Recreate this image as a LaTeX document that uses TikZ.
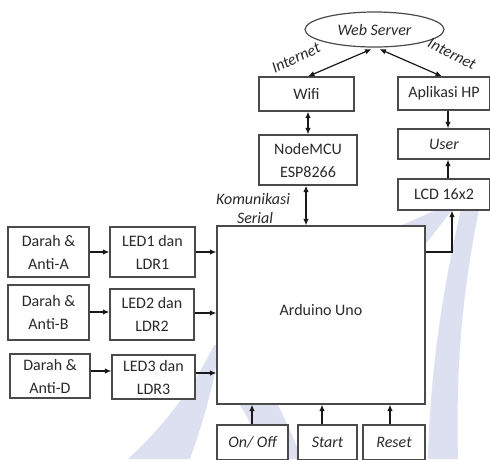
\documentclass[tikz,border=0pt]{standalone}
\usepackage{fontspec}
\setmainfont{Carlito}
\usetikzlibrary{arrows.meta,shapes.geometric}
\definecolor{boxline}{HTML}{4A4A4A}
\definecolor{txt}{HTML}{2A2A2A}
\definecolor{wm}{HTML}{DDE0F1}
\tikzset{
  blk/.style={draw=boxline, line width=1.2pt, fill=white, text=txt, align=center,
    inner sep=0pt, font=\fontsize{16}{23}\selectfont},
  itl/.style={text=txt, font=\fontsize{16}{18}\selectfont\itshape, inner sep=0pt},
  conn/.style={draw=black!90, line width=1.2pt, -{Latex[length=6.5pt,width=5.5pt]}},
  bconn/.style={conn, {Latex[length=6.5pt,width=5.5pt]}-{Latex[length=6.5pt,width=5.5pt]}}
}
\begin{document}
\begin{tikzpicture}[x=1pt,y=-1pt]
\useasboundingbox (0,0) rectangle (490,459);
\clip (0,0) rectangle (490,459);
\fill[white] (0,0) rectangle (490,459);
% watermark bands (faint)
\fill[wm] (128,459) .. controls (165,425) and (195,385) .. (214,345) -- (220,345) .. controls (212,395) and (200,430) .. (190,459) -- cycle;
\fill[wm] (262,459) .. controls (258,440) and (250,420) .. (240,405) -- (278,405) .. controls (288,425) and (294,440) .. (302,459) -- cycle;
\fill[wm] (428,459) .. controls (430,380) and (440,300) .. (462,205) -- (480,205) .. controls (460,300) and (456,380) .. (458,459) -- cycle;
\fill[wm] (400,226) -- (436,210) -- (452,210) -- (425,245) -- (425,226) -- cycle;

% nodes
\node[draw=boxline, line width=1.2pt, ellipse, fill=white, minimum width=139pt, minimum height=35pt, inner sep=0pt, text=txt, font=\fontsize{16}{18}\selectfont\itshape] (ws) at (374.5,29.5) {Web Server};
\node[blk, minimum width=95pt, minimum height=34pt] (wifi) at (306.5,94) {Wifi};
\node[blk, minimum width=92pt, minimum height=33pt] (app) at (444,93.5) {Aplikasi HP};
\node[blk, minimum width=98pt, minimum height=50pt] (node) at (308,160) {NodeMCU\\ESP8266};
\node[blk, minimum width=92pt, minimum height=30pt, font=\fontsize{16}{18}\selectfont\itshape] (user) at (444,144) {User};
\node[blk, minimum width=92pt, minimum height=31pt] (lcd) at (444,194.5) {LCD 16x2};
\node[blk, minimum width=208pt, minimum height=178pt] (ard) at (321,315) {};
\node[text=txt, font=\fontsize{16}{18}\selectfont, inner sep=0pt] (ardt) at (321,310) {Arduino Uno};
\node[blk, minimum width=81pt, minimum height=50pt] (da) at (48.5,252) {Darah \&\\Anti-A};
\node[blk, minimum width=81pt, minimum height=55pt] (db) at (48.5,312.5) {Darah \&\\Anti-B};
\node[blk, minimum width=80pt, minimum height=44pt] (dd) at (50,376) {Darah \&\\Anti-D};
\node[blk, minimum width=85pt, minimum height=50pt] (l1) at (152.5,252) {LED1 dan\\LDR1};
\node[blk, minimum width=84pt, minimum height=51pt] (l2) at (152,314.5) {LED2 dan\\LDR2};
\node[blk, minimum width=83pt, minimum height=44pt] (l3) at (153.5,377) {LED3 dan\\LDR3};
\node[blk, minimum width=71pt, minimum height=35pt, font=\fontsize{16}{18}\selectfont\itshape] (onoff) at (252.5,442.5) {On/ Off};
\node[blk, minimum width=59pt, minimum height=35pt, font=\fontsize{16}{18}\selectfont\itshape] (start) at (327.5,442.5) {Start};
\node[blk, minimum width=62pt, minimum height=35pt, font=\fontsize{16}{18}\selectfont\itshape] (reset) at (394,442.5) {Reset};

% labels
\node[itl, rotate=25] (inl) at (296,58) {Internet};
\node[itl, rotate=-27] (inr) at (452,54) {Internet};
\node[itl] (kom) at (253,199) {Komunikasi};
\node[itl] (ser) at (255,218) {Serial};

% helper coordinates
\coordinate (wl) at (308,0);
\coordinate (ar) at (442,0);
\coordinate (cx) at (448,0);
\coordinate (lk) at (452,252);
\coordinate (b1) at (252,0);
\coordinate (b2) at (322,0);
\coordinate (b3) at (390,0);

% connectors
\draw[bconn] (wifi.north -| wl) -- ([xshift=-3pt,yshift=-1.5pt]ws.south);
\draw[bconn] (app.north -| ar) -- ([xshift=5pt,yshift=-1.5pt]ws.south);
\draw[bconn] (wifi.south -| wl) -- (node.north -| wl);
\draw[bconn] ([xshift=-2pt]node.south) -- ([xshift=-2pt]node.south |- ard.north);
\draw[conn] (app.south -| cx) -- (user.north -| cx);
\draw[conn] (lcd.north -| cx) -- (user.south -| cx);
\draw[conn] (ard.east |- lk) -- (lk) -- (lcd.south -| lk);
\draw[conn] (da.east) -- (l1.west);
\draw[conn] (l1.east) -- (l1.east -| ard.west);
\draw[conn] ([yshift=0.5pt]db.east) -- ([yshift=0.5pt]db.east -| l2.west);
\draw[conn] ([yshift=1.5pt]l2.east) -- ([yshift=1.5pt]l2.east -| ard.west);
\draw[conn] ([yshift=5pt]dd.east) -- ([yshift=5pt]dd.east -| l3.west);
\draw[conn] ([yshift=4pt]l3.east) -- ([yshift=4pt]l3.east -| ard.west);
\draw[conn] (onoff.north -| b1) -- (ard.south -| b1);
\draw[conn] (start.north -| b2) -- (ard.south -| b2);
\draw[conn] (reset.north -| b3) -- (ard.south -| b3);
\end{tikzpicture}
\end{document}
